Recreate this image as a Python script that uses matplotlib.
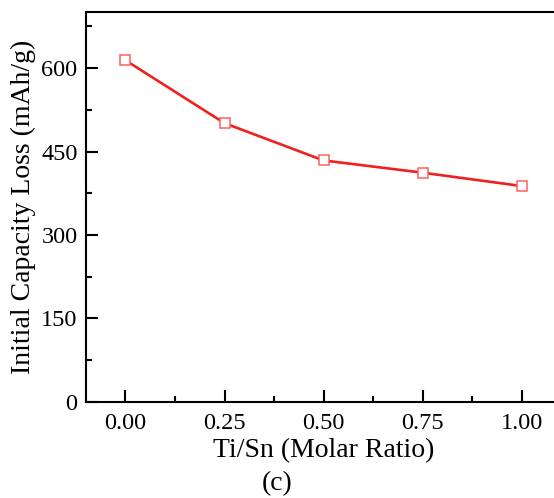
import numpy as np
import matplotlib.pyplot as plt
from matplotlib.ticker import MultipleLocator

# data
ratio = [0.00, 0.25, 0.50, 0.75, 1.00]
capacity_loss = [614, 501, 434, 412, 388]

plt.rcParams['font.family'] = ['Liberation Serif', 'DejaVu Serif']

fig = plt.figure(figsize=(5.54, 4.98), dpi=100)
ax = fig.add_axes([0.155, 0.193, 0.858, 0.782])

ax.plot(ratio, capacity_loss, color='#f02020', linewidth=1.9, zorder=2)
ax.plot(ratio, capacity_loss, linestyle='none', marker='s', markersize=7.8,
        markerfacecolor='white', markeredgecolor='#ff6060', markeredgewidth=1.1, zorder=3)

ax.set_xlim(-0.1, 1.1)
ax.set_ylim(0, 700)
ax.set_xticks(ratio)
ax.set_xticklabels(['0.00', '0.25', '0.50', '0.75', '1.00'])
ax.set_yticks([0, 150, 300, 450, 600])
ax.xaxis.set_minor_locator(MultipleLocator(0.125))
ax.yaxis.set_minor_locator(MultipleLocator(75))

ax.tick_params(which='both', direction='in', top=False, right=False, labelsize=17.5, width=1.5)
ax.tick_params(which='major', length=8.5)
ax.tick_params(which='minor', length=4.5)
ax.tick_params(axis='x', which='major', pad=8)
ax.tick_params(axis='y', which='major', pad=6)
for side in ['left', 'bottom', 'top']:
    ax.spines[side].set_linewidth(1.5)
ax.spines['right'].set_visible(False)

ax.set_xlabel('Ti/Sn (Molar Ratio)', fontsize=20, labelpad=3)
ax.set_ylabel('Initial Capacity Loss (mAh/g)', fontsize=20, labelpad=4)
fig.text(0.5, 0.004, '(c)', fontsize=20, ha='center', va='bottom')

fig.savefig('out.png', dpi=100)
